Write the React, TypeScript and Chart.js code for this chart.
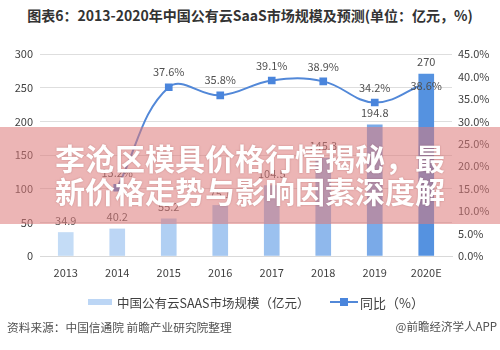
import React, { useEffect, useRef } from "react";
import { Chart, registerables } from "chart.js";

Chart.register(...registerables);

const categories = ["2013", "2014", "2015", "2016", "2017", "2018", "2019", "2020E"];
const marketSize = [34.9, 40.2, 55.2, 75.1, 104.5, 145.3, 194.8, 270];
const growth = [null, 15.2, 37.6, 35.8, 39.1, 38.9, 34.2, 38.6];
const barColors = ["#c4dcf6", "#bcd6f5", "#b0cff3", "#a6c8f1", "#9bc1ef", "#8fb8ec", "#7aaae8", "#5592e0"];
const leftTicks = [0, 50, 100, 150, 200, 250, 300];
const rightTicks = [0, 5, 10, 15, 20, 25, 30, 35, 40, 45];

const FONT = "'Noto Sans CJK SC', 'Noto Sans', sans-serif";

const labelPlugin = {
  id: "valueLabels",
  afterDatasetsDraw(chart: any) {
    const ctx = chart.ctx;
    const xs = chart.scales.x;
    const ys = chart.scales.y;
    const y1 = chart.scales.y1;
    ctx.save();
    ctx.font = `11px ${FONT}`;
    ctx.fillStyle = "#505050";
    ctx.textAlign = "center";
    ctx.textBaseline = "middle";
    marketSize.forEach((v, i) => {
      const x = xs.getPixelForValue(i);
      const y = ys.getPixelForValue(v);
      ctx.fillText(String(v), x, y - 12);
    });
    growth.forEach((v, i) => {
      if (v == null) return;
      const x = xs.getPixelForValue(i);
      const y = y1.getPixelForValue(v);
      const last = i === growth.length - 1;
      ctx.fillText(v.toFixed(1) + "%", x, last ? y + 3 : y - 15);
    });
    ctx.restore();
  },
};

export default function App() {
  const ref = useRef<HTMLCanvasElement | null>(null);
  useEffect(() => {
    document.body.style.margin = "0";
    const chart = new Chart(ref.current as HTMLCanvasElement, {
      type: "bar",
      data: {
        labels: categories,
        datasets: [
          {
            type: "bar",
            label: "中国公有云SAAS市场规模（亿元）",
            data: marketSize,
            backgroundColor: barColors,
            barThickness: 15,
            yAxisID: "y",
            order: 1,
          },
          {
            type: "line",
            label: "同比（%）",
            data: growth as any,
            borderColor: "#5288d8",
            backgroundColor: "#4a85dc",
            borderWidth: 2,
            tension: 0.4,
            pointStyle: "rect",
            pointRadius: 4,
            pointBackgroundColor: "#4a85dc",
            pointBorderColor: "#4a85dc",
            yAxisID: "y1",
            order: 2,
          },
        ],
      },
      options: {
        animation: false,
        responsive: false,
        maintainAspectRatio: false,
        layout: { padding: { top: 54, bottom: 70, left: 0, right: 0 } },
        plugins: { legend: { display: false }, title: { display: false }, tooltip: { enabled: false } },
        scales: {
          x: {
            grid: { display: false },
            border: { display: true, color: "#d9d9d9" },
            ticks: { color: "#404040", font: { family: FONT, size: 11 }, padding: 2 },
            afterFit(s: any) { s.height = 24; },
          },
          y: {
            position: "left",
            min: 0,
            max: 300,
            afterBuildTicks(s: any) { s.ticks = leftTicks.map((v) => ({ value: v })); },
            grid: { color: "#dedede", drawTicks: false },
            border: { display: false },
            ticks: { color: "#404040", font: { family: FONT, size: 11 }, padding: 7 },
            afterFit(s: any) { s.width = 40; },
          },
          y1: {
            position: "right",
            min: 0,
            max: 45,
            afterBuildTicks(s: any) { s.ticks = rightTicks.map((v) => ({ value: v })); },
            grid: { display: false, drawTicks: false },
            border: { display: false },
            ticks: {
              color: "#404040",
              font: { family: FONT, size: 11 },
              padding: 6,
              callback: (v: any) => Number(v).toFixed(1) + "%",
            },
            afterFit(s: any) { s.width = 48; },
          },
        },
      },
      plugins: [labelPlugin],
    } as any);
    return () => chart.destroy();
  }, []);

  return (
    <div style={{ position: "relative", width: 500, height: 350, background: "#fff", fontFamily: FONT, overflow: "hidden" }}>
      <div style={{ position: "absolute", left: 0, top: 5, width: 500, textAlign: "center", fontSize: 14, fontWeight: "bold", color: "#333", lineHeight: "20px", whiteSpace: "nowrap" }}>
        图表6：2013-2020年中国公有云SaaS市场规模及预测(单位：亿元，%)
      </div>
      <canvas ref={ref} width={500} height={350} style={{ position: "absolute", left: 0, top: 0 }} />
      <div style={{ position: "absolute", left: 0, top: 127, width: 500, height: 97, background: "rgba(220,120,120,0.55)" }} />
      <div style={{ position: "absolute", left: 0, top: 141, width: 500, textAlign: "center", color: "#fff", fontWeight: "bold", fontSize: 30, lineHeight: "33px", textShadow: "0 0 2px rgba(120,40,40,0.35)" }}>
        <div>李沧区模具价格行情揭秘，最</div>
        <div>新价格走势与影响因素深度解</div>
      </div>
      <div style={{ position: "absolute", left: 88, top: 294, height: 16, display: "flex", alignItems: "center", fontSize: 12.5, color: "#404040", whiteSpace: "nowrap" }}>
        <span style={{ display: "inline-block", width: 24, height: 6, background: "#bcd6f5", marginRight: 5 }} />
        <span>中国公有云SAAS市场规模（亿元）</span>
      </div>
      <div style={{ position: "absolute", left: 330, top: 294, height: 16, display: "flex", alignItems: "center", fontSize: 13, color: "#404040", whiteSpace: "nowrap" }}>
        <span style={{ display: "inline-block", width: 28, position: "relative", height: 16, marginRight: 2 }}>
          <span style={{ position: "absolute", left: 0, top: 7, width: 28, height: 2, background: "#5288d8" }} />
          <span style={{ position: "absolute", left: 10, top: 4, width: 8, height: 8, background: "#4a85dc" }} />
        </span>
        <span>同比（%）</span>
      </div>
      <div style={{ position: "absolute", left: 7, top: 318, fontSize: 11.7, color: "#505050", whiteSpace: "nowrap" }}>
        资料来源：中国信通院 前瞻产业研究院整理
      </div>
      <div style={{ position: "absolute", right: 3, top: 318, fontSize: 11.5, color: "#505050", whiteSpace: "nowrap" }}>
        @前瞻经济学人APP
      </div>
    </div>
  );
}
